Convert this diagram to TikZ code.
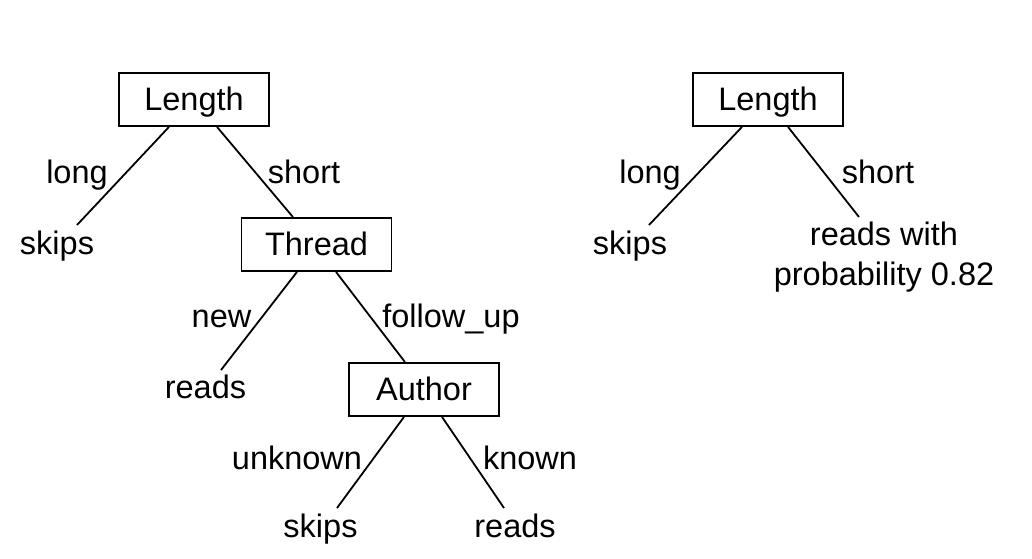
\documentclass[tikz,border=0pt]{standalone}
\usepackage{fontspec}
\setmainfont{Liberation Sans}
\begin{document}
\begin{tikzpicture}[x=1pt,y=-1pt,
  every node/.style={font=\fontsize{32.5}{39}\selectfont, inner sep=0pt},
  attr/.style={draw=black, line width=1.8pt, minimum width=150pt, minimum height=53pt,
    text height=23pt, text depth=2pt, anchor=center},
  lbl/.style={anchor=base},
  edge/.style={line width=1.8pt}]
\useasboundingbox (0,0) rectangle (1032,558);
% left tree
\node[attr] (L1) at (194,99.5) {Length};
\node[lbl] (s1) at (57,254) {skips};
\node[attr] (T) at (316.5,244.5) {Thread};
\node[lbl] (lo1) at (77,183) {long};
\node[lbl] (sh1) at (304,183) {short};
\draw[edge] ([xshift=-25pt]L1.south) -- ([xshift=20pt,yshift=29pt]s1.base);
\draw[edge] ([xshift=23pt]L1.south) -- ([xshift=-23.5pt]T.north);
\node[lbl] (r1) at (205.5,398) {reads};
\node[attr] (A) at (424,389.5) {Author};
\node[lbl] (nw) at (221.5,327) {new};
\node[lbl] (fu) at (451,327) {follow\_up};
\draw[edge] ([xshift=-19.5pt]T.south) -- ([xshift=15.5pt,yshift=28pt]r1.base);
\draw[edge] ([xshift=19.5pt]T.south) -- ([xshift=-19pt]A.north);
\node[lbl] (s2) at (320.5,537) {skips};
\node[lbl] (r2) at (515,537) {reads};
\node[lbl] (uk) at (297,469) {unknown};
\node[lbl] (kn) at (530,469) {known};
\draw[edge] ([xshift=-20pt]A.south) -- ([xshift=16.5pt,yshift=29pt]s2.base);
\draw[edge] ([xshift=18pt]A.south) -- ([xshift=-11pt,yshift=29pt]r2.base);
% right tree
\node[attr] (L2) at (768,99.5) {Length};
\node[lbl] (s3) at (630,254) {skips};
\node[lbl] (lo2) at (650,183) {long};
\node[lbl] (sh2) at (878,183) {short};
\node[lbl] (rw1) at (884,245) {reads with};
\node[lbl] (rw2) at (884,285) {probability 0.82};
\draw[edge] ([xshift=-26pt]L2.south) -- ([xshift=19pt,yshift=29pt]s3.base);
\draw[edge] ([xshift=20pt]L2.south) -- ([xshift=-25pt,yshift=28pt]rw1.base);
\end{tikzpicture}
\end{document}
